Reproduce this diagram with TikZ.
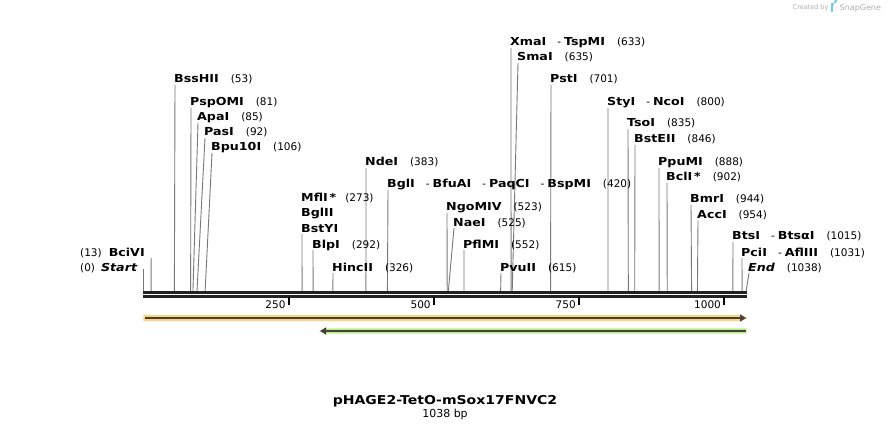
\documentclass[tikz,border=0pt]{standalone}
\usepackage{fontspec}
\setmainfont{DejaVu Sans}[BoldFeatures={FakeStretch=1.15},BoldItalicFeatures={FakeStretch=1.15}]
\usetikzlibrary{arrows.meta}
\definecolor{cutgray}{RGB}{120,120,120}
\definecolor{orfill}{RGB}{253,210,130}
\definecolor{grfill}{RGB}{186,240,140}
\definecolor{darkline}{RGB}{70,66,58}
\definecolor{barcol}{RGB}{34,34,34}
\definecolor{logogray}{RGB}{175,175,175}
\definecolor{logoblue}{RGB}{120,200,240}
\newcommand{\enz}[1]{{\fontsize{11}{12}\selectfont\bfseries #1}}
\newcommand{\numb}[1]{\hspace{12pt}(#1)}
\newcommand{\zsep}{\hspace{11pt}-\hspace{3pt}}
\newcommand{\site}[5]{%
  \node[lab] (#1) at (#2,#3+4) {#5};
  \coordinate (#1t) at (#2+1,#3+6);
  \coordinate (#1s) at ({143.6+0.5805*#4},291);
  \draw[cut] (#1t) -- (#1s);
}
\begin{document}
\begin{tikzpicture}[x=1pt,y=-1pt,
  lab/.style={anchor=base west,inner sep=0pt,font=\fontsize{10.5}{12}\selectfont},
  cut/.style={draw=cutgray,line width=0.9pt},
  ticklab/.style={anchor=base east,inner sep=0pt,font=\fontsize{10.5}{12}\selectfont}]
\useasboundingbox (0,0) rectangle (890,430);
% enzyme labels and cut lines
\site{xma}{510}{42}{633}{\enz{XmaI}\zsep\enz{TspMI}\numb{633}}
\site{sma}{517}{57}{635}{\enz{SmaI}\numb{635}}
\site{bss}{174}{79}{53}{\enz{BssHII}\numb{53}}
\site{pst}{550}{79}{701}{\enz{PstI}\numb{701}}
\site{psp}{190}{102}{81}{\enz{PspOMI}\numb{81}}
\site{sty}{607}{102}{800}{\enz{StyI}\zsep\enz{NcoI}\numb{800}}
\site{apa}{197}{117}{85}{\enz{ApaI}\numb{85}}
\site{tso}{627}{123}{835}{\enz{TsoI}\numb{835}}
\site{pas}{204}{132}{92}{\enz{PasI}\numb{92}}
\site{bst}{634}{139}{846}{\enz{BstEII}\numb{846}}
\site{bpu}{211}{147}{106}{\enz{Bpu10I}\numb{106}}
\site{nde}{365}{162}{383}{\enz{NdeI}\numb{383}}
\site{ppu}{658}{162}{888}{\enz{PpuMI}\numb{888}}
\site{bcl}{666}{177}{902}{\enz{BclI\,*}\numb{902}}
\site{bgl}{387}{184}{420}{\enz{BglI}\zsep\enz{BfuAI}\zsep\enz{PaqCI}\zsep\enz{BspMI}\numb{420}}
\site{bmr}{690}{199}{944}{\enz{BmrI}\numb{944}}
\site{ngo}{446}{207}{523}{\enz{NgoMIV}\numb{523}}
\site{acc}{697}{214.5}{954}{\enz{AccI}\numb{954}}
\site{nae}{453}{222}{525}{\enz{NaeI}\numb{525}}
\site{bts}{732}{236}{1015}{\enz{BtsI}\zsep\enz{BtsαI}\numb{1015}}
\site{blp}{312}{244}{292}{\enz{BlpI}\numb{292}}
\site{pfl}{463}{244}{552}{\enz{PflMI}\numb{552}}
\site{pci}{741}{252}{1031}{\enz{PciI}\zsep\enz{AflIII}\numb{1031}}
\site{hinc}{332}{267}{326}{\enz{HincII}\numb{326}}
\site{pvu}{500}{267}{615}{\enz{PvuII}\numb{615}}
\site{endl}{748}{267}{1038}{\enz{\itshape End}\numb{1038}}
% MflI group
\node[lab] (mfl) at (301,202) {\enz{MflI\,*}\hspace{9pt}(273)};
\node[lab] (bglii) at (301,217) {\enz{BglII}};
\node[lab] (bsty) at (301,232) {\enz{BstYI}};
\coordinate (mflt) at (302,234);
\coordinate (mfls) at ({143.6+0.5805*273},291);
\draw[cut] (mflt) -- (mfls);
% left labels
\node[lab] (bci) at (80,256) {(13)\hspace{7pt}\enz{BciVI}};
\coordinate (bcit) at (151.2,258);
\coordinate (bcis) at ({143.6+0.5805*13},291);
\draw[cut] (bcit) -- (bcis);
\node[lab] (start) at (80,271) {(0)\hspace{6pt}\enz{\itshape Start}};
\coordinate (startt) at (143.6,269);
\coordinate (starts) at (143.6,291);
\draw[cut] (startt) -- (starts);
% sequence bar
\draw[draw=barcol,line width=2.7pt] (143.3,292.4) -- (746.6,292.4);
\draw[draw=barcol,line width=2.7pt] (143.3,296.4) -- (746.6,296.4);
\foreach \t in {250,500,750,1000}{
  \draw[line width=1.6pt] ({143.6+0.5805*\t},297) -- ({143.6+0.5805*\t},305);
  \node[ticklab] (tk\t) at ({143.6+0.5805*\t-3},308) {\t};
}
% features
\fill[orfill] (143.3,315) -- (741,315) -- (748,318) -- (741,321) -- (143.3,321) -- cycle;
\draw[draw=darkline,line width=2pt,-{Triangle[length=6pt,width=7pt]}] (145,318) -- (746,318);
\fill[grfill] (746.6,328.3) -- (326,328.3) -- (318.5,331) -- (326,333.7) -- (746.6,333.7) -- cycle;
\draw[draw=darkline,line width=2pt,-{Triangle[length=6pt,width=7pt]}] (745.5,331) -- (320,331);
% title
\node[anchor=base,inner sep=0pt,font=\fontsize{12.2}{14}\selectfont\bfseries] (title) at (445,404) {pHAGE2-TetO-mSox17FNVC2};
\node[anchor=base,inner sep=0pt,font=\fontsize{11}{12}\selectfont] (len) at (445,417.5) {1038 bp};
% logo
\node[anchor=base west,inner sep=0pt,text=logogray,font=\fontsize{6.5}{8}\selectfont] (cby) at (792.5,10) {Created by};
\fill[logoblue] (831,3) rectangle (833,12);
\fill[logoblue] (833,3) -- (835,3) arc[start angle=90,end angle=-90,radius=2.2] -- (833,7.4) -- cycle;
\node[anchor=base west,inner sep=0pt,text=logogray,font=\fontsize{8}{9}\selectfont] (sg) at (839.5,10.5) {SnapGene};
\end{tikzpicture}
\end{document}
